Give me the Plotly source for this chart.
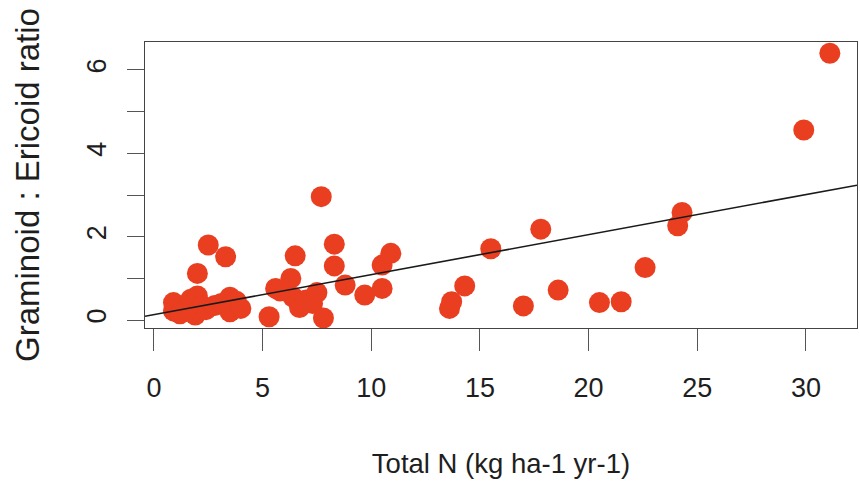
import plotly.graph_objects as go

# Data
total_n = [0.9, 0.9, 1.2, 1.7, 1.9, 2.0, 2.0, 2.2, 2.4, 2.5, 2.8, 3.1, 3.3, 3.5, 3.5,
           3.8, 4.0, 5.3, 5.6, 5.8, 6.3, 6.4, 6.5, 6.7, 7.0, 7.3, 7.5, 7.7, 7.8,
           8.3, 8.3, 8.8, 9.7, 10.5, 10.5, 10.9, 13.6, 13.7, 14.3, 15.5, 17.0,
           17.8, 18.6, 20.5, 21.5, 22.6, 24.1, 24.3, 29.9, 31.1]
ratio = [0.42, 0.22, 0.15, 0.50, 0.12, 0.58, 1.12, 0.35, 0.25, 1.80, 0.35, 0.40, 1.52,
         0.55, 0.20, 0.45, 0.28, 0.08, 0.76, 0.70, 1.00, 0.55, 1.54, 0.30, 0.48, 0.40,
         0.66, 2.96, 0.05, 1.82, 1.30, 0.84, 0.60, 0.76, 1.32, 1.60, 0.28, 0.44, 0.82,
         1.71, 0.34, 2.18, 0.72, 0.42, 0.44, 1.26, 2.26, 2.58, 4.56, 6.40]

fit_intercept = 0.13
fit_slope = 0.096

x_ticks = [0, 5, 10, 15, 20, 25, 30]
y_ticks = [0, 1, 2, 3, 4, 5, 6]
y_tick_labels = ["0", "", "2", "", "4", "", "6"]

x_range = [-0.41, 32.35]
y_range = [-0.19, 6.67]

fig = go.Figure()
fig.add_trace(go.Scatter(
    x=total_n, y=ratio, mode="markers",
    marker=dict(size=21, color="#EA3E20", line=dict(width=0)),
    showlegend=False, hoverinfo="x+y",
))
line_x = list(x_range)
line_y = [fit_intercept + fit_slope * v for v in line_x]
fig.add_trace(go.Scatter(
    x=line_x, y=line_y, mode="lines",
    line=dict(color="#1a1a1a", width=1.6),
    showlegend=False, hoverinfo="skip",
))

family = "Liberation Sans, Arial, sans-serif"
axis_font = dict(family=family, size=27, color="#1e1e1e")
fig.update_layout(
    width=860, height=486,
    margin=dict(l=145, r=3, t=42, b=158),
    paper_bgcolor="white", plot_bgcolor="white",
    font=axis_font,
    xaxis=dict(
        range=x_range, tickvals=x_ticks, ticks="outside", ticklen=22,
        tickcolor="#555555", tickwidth=1.3, ticklabelstandoff=13,
        showline=True, linecolor="#444444", linewidth=1.3, mirror=True,
        showgrid=False, zeroline=False, tickfont=axis_font,
        title=dict(text="Total N (kg ha-1 yr-1)", font=dict(size=27.5, family=family, color="#1e1e1e"), standoff=52),
    ),
    yaxis=dict(
        range=y_range, tickvals=y_ticks, ticktext=y_tick_labels, ticks="outside", ticklen=17,
        tickcolor="#555555", tickwidth=1.3, tickangle=-90, ticklabelstandoff=10,
        showline=True, linecolor="#444444", linewidth=1.3, mirror=True,
        showgrid=False, zeroline=False, tickfont=axis_font,
        title=dict(text="Graminoid : Ericoid ratio", font=dict(size=33, family=family, color="#1e1e1e"), standoff=32),
    ),
)

fig.write_html("out.html")
